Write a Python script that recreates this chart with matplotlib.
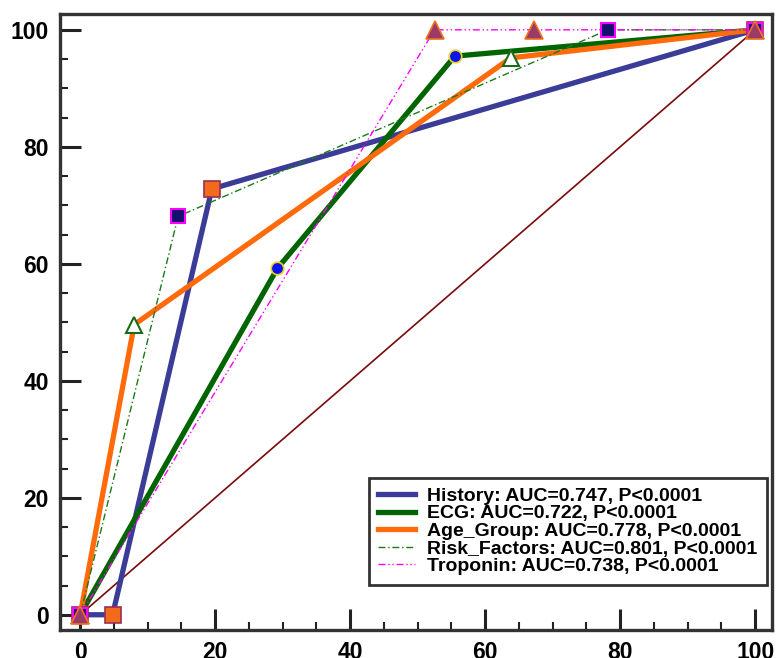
import matplotlib.pyplot as plt
from matplotlib.ticker import MultipleLocator

# ROC points (1-specificity, sensitivity)
hist_x = [0, 4.8, 19.5, 100]
hist_y = [0, 0, 72.8, 100]
ecg_x = [0, 29.2, 55.5, 100]
ecg_y = [0, 59.2, 95.5, 100]
age_x = [0, 8.0, 63.8, 100]
age_y = [0, 49.6, 95.2, 100]
risk_x = [0, 14.5, 78.2, 100]
risk_y = [0, 68.1, 100, 100]
trop_x = [0, 52.5, 67.3, 100]
trop_y = [0, 100, 100, 100]

labels = ['History: AUC=0.747, P<0.0001',
          'ECG: AUC=0.722, P<0.0001',
          'Age_Group: AUC=0.778, P<0.0001',
          'Risk_Factors: AUC=0.801, P<0.0001',
          'Troponin: AUC=0.738, P<0.0001']

plt.rcParams['font.family'] = ['Liberation Sans', 'DejaVu Sans']
plt.rcParams['font.weight'] = 'bold'

fig = plt.figure(figsize=(7.77, 6.58), dpi=100)
ax = fig.add_axes([0.0772, 0.0426, 0.9164, 0.9361])

# reference diagonal
ax.plot([0, 100], [0, 100], color='#7a0a0a', lw=1.2, zorder=1)

# lines
ax.plot(hist_x, hist_y, color='#3b3b98', lw=3.8, label=labels[0], zorder=2)
ax.plot(ecg_x, ecg_y, color='#006400', lw=3.8, label=labels[1], zorder=2)
ax.plot(age_x, age_y, color='#ff6a0a', lw=3.8, label=labels[2], zorder=2)
ax.plot(risk_x, risk_y, color='#1a7a1a', lw=1.0, ls=(0, (5, 2, 1, 2)),
        label=labels[3], zorder=3)
ax.plot(trop_x, trop_y, color='#ff00ff', lw=1.0, ls=(0, (5, 2, 1, 2, 1, 2)),
        label=labels[4], zorder=3)

# markers
ax.plot(hist_x, hist_y, ls='none', marker='s', ms=11, mfc='#f26a1b',
        mec='#9a3050', mew=1.2, zorder=4)
ax.plot(ecg_x, ecg_y, ls='none', marker='o', ms=9, mfc='#0a14f0',
        mec='#f0d020', mew=1.2, zorder=4)
ax.plot(age_x, age_y, ls='none', marker='^', ms=12, mfc='white',
        mec='#1a6a1a', mew=1.5, zorder=4)
ax.plot(risk_x, risk_y, ls='none', marker='s', ms=10, mfc='#14106e',
        mec='#ff00ff', mew=1.5, zorder=5)
ax.plot(trop_x, trop_y, ls='none', marker='^', ms=13, mfc='#9a3a66',
        mec='#f07020', mew=1.2, zorder=6)

ax.set_xlim(-3, 102.5)
ax.set_ylim(-2.6, 102.7)
ax.xaxis.set_major_locator(MultipleLocator(20))
ax.xaxis.set_minor_locator(MultipleLocator(5))
ax.yaxis.set_major_locator(MultipleLocator(20))
ax.yaxis.set_minor_locator(MultipleLocator(5))
ax.tick_params(which='major', direction='in', length=15, width=2.2,
               color='#222222', labelsize=16.5, pad=8)
ax.tick_params(which='minor', direction='in', length=6, width=1.5,
               color='#222222')
ax.tick_params(top=False, right=False, which='both')
for lab in ax.get_xticklabels() + ax.get_yticklabels():
    lab.set_fontweight('bold')
for s in ax.spines.values():
    s.set_linewidth(2.4)
    s.set_color('#333333')

leg = ax.legend(loc='lower right', bbox_to_anchor=(0.993, 0.073),
                fontsize=14, frameon=True, fancybox=False, handlelength=1.9,
                handletextpad=0.6, labelspacing=0.0, borderpad=0.5,
                borderaxespad=0)
leg.get_frame().set_edgecolor('black')
leg.get_frame().set_linewidth(2)
for t in leg.get_texts():
    t.set_fontweight('bold')

fig.savefig('out.png', dpi=100)
